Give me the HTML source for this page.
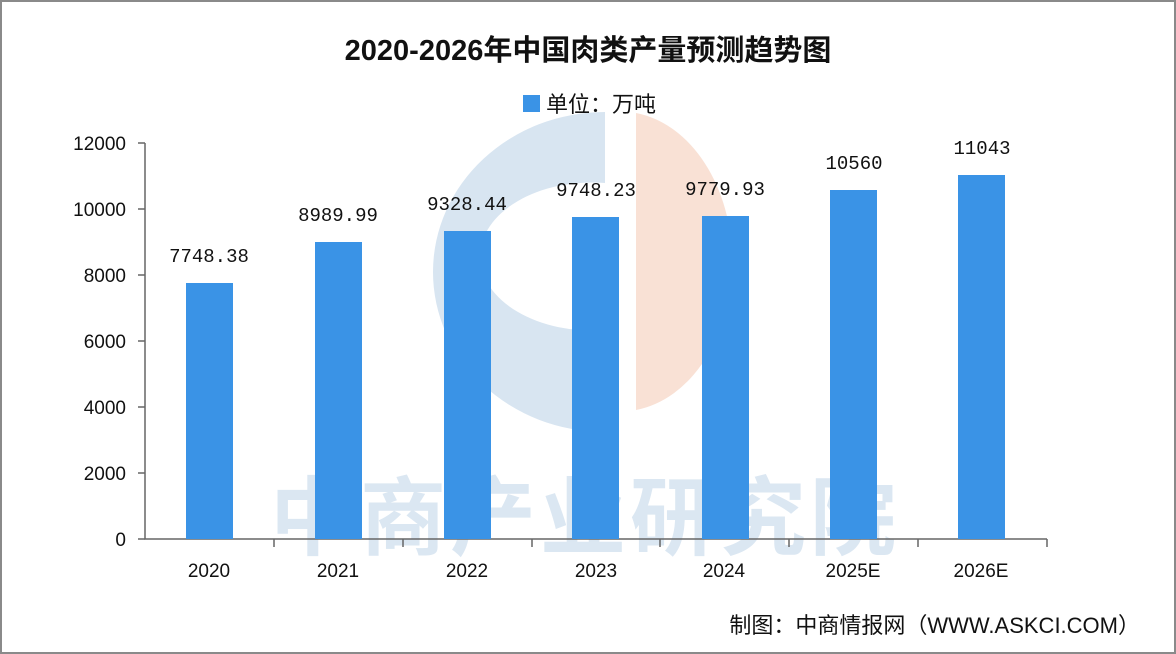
<!DOCTYPE html>
<html><head><meta charset="utf-8"><style>
body{margin:0;width:1176px;height:654px;background:#fff;overflow:hidden}
</style></head><body>
<svg width="1176" height="654" xmlns="http://www.w3.org/2000/svg" style="position:absolute;left:0;top:0">
<rect x="1" y="1" width="1174" height="652" fill="#fff" stroke="#8a8a8a" stroke-width="2"/>
<!-- watermark -->
<path d="M605 112 A172 160 0 1 0 605 432 L605 330 A112 74 0 1 1 605 183 Z" fill="#d8e5f1"/>
<path d="M636 113 A112 150 0 0 1 636 410 Z" fill="#f9e1d5"/>
<text x="585" y="548" text-anchor="middle" font-family="'Noto Sans CJK SC',sans-serif" font-weight="bold" font-size="86" fill="#dbe7f2" letter-spacing="4">中商产业研究院</text>
<text x="588" y="60" text-anchor="middle" font-family="'Liberation Sans','Noto Sans CJK SC',sans-serif" font-weight="bold" font-size="29" fill="#111">2020-2026年中国肉类产量预测趋势图</text>
<rect x="523" y="95" width="17" height="17" fill="#3a93e6"/>
<text x="546" y="112" font-family="'Liberation Sans','Noto Sans CJK SC',sans-serif" font-size="22" fill="#111">单位：万吨</text>
<g font-family="'Liberation Sans',sans-serif" font-size="19" fill="#111" text-anchor="end">
<text x="126" y="150">12000</text><text x="126" y="216">10000</text><text x="126" y="282">8000</text>
<text x="126" y="348">6000</text><text x="126" y="414">4000</text><text x="126" y="480">2000</text><text x="126" y="546">0</text>
</g>
<g stroke="#666" stroke-width="1.5" fill="none">
<path d="M145 143 V539 H1047"/>
<path d="M138 143H145M138 209H145M138 275H145M138 341H145M138 407H145M138 473H145M138 539H145"/>
<path d="M274 539V547M403 539V547M532 539V547M660 539V547M789 539V547M918 539V547M1047 539V547"/>
</g>
<g fill="#3a93e6">
<rect x="186" y="283" width="47" height="256"/>
<rect x="315" y="242" width="47" height="297"/>
<rect x="444" y="231" width="47" height="308"/>
<rect x="572" y="217" width="47" height="322"/>
<rect x="702" y="216" width="47" height="323"/>
<rect x="830" y="190" width="47" height="349"/>
<rect x="958" y="175" width="47" height="364"/>
</g>
<g font-family="'Liberation Mono',monospace" font-size="19" fill="#111" text-anchor="middle">
<text x="209" y="262">7748.38</text><text x="338" y="221">8989.99</text><text x="467" y="210">9328.44</text>
<text x="596" y="196">9748.23</text><text x="725" y="195">9779.93</text><text x="854" y="169">10560</text><text x="982" y="154">11043</text>
</g>
<g font-family="'Liberation Sans',sans-serif" font-size="19" fill="#111" text-anchor="middle">
<text x="209" y="577">2020</text><text x="338" y="577">2021</text><text x="467" y="577">2022</text><text x="596" y="577">2023</text>
<text x="724" y="577">2024</text><text x="853" y="577">2025E</text><text x="981" y="577">2026E</text>
</g>
<text x="1140" y="633" text-anchor="end" font-family="'Liberation Sans','Noto Sans CJK SC',sans-serif" font-size="22" fill="#111">制图：中商情报网（WWW.ASKCI.COM）</text>
</svg>
</body></html>
